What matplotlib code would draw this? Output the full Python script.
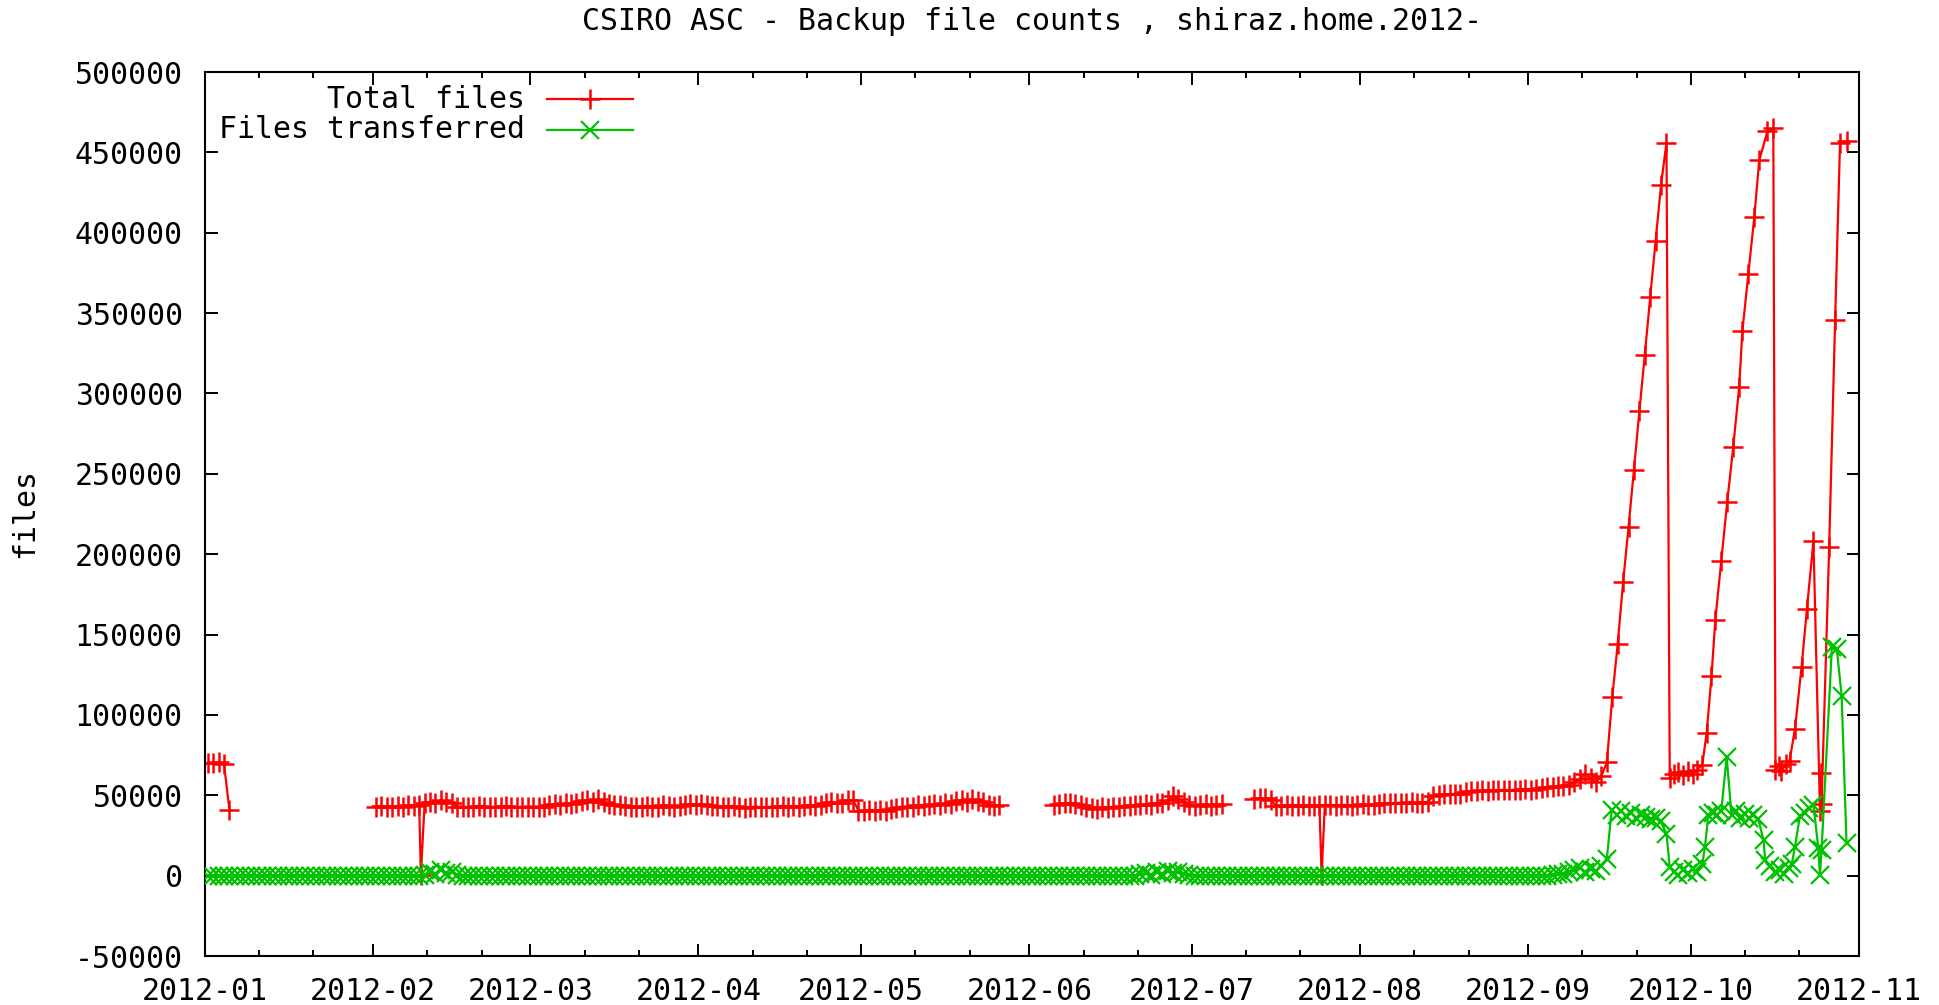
import numpy as np
import pandas as pd
import matplotlib
matplotlib.use("Agg")
import matplotlib.pyplot as plt
import matplotlib.dates as mdates
from matplotlib.lines import Line2D
from matplotlib.ticker import MultipleLocator, FuncFormatter

plt.rcParams.update({"font.family": "DejaVu Sans Mono", "font.size": 21.5,
                     "axes.unicode_minus": False})

RED = "#ff0000"
GREEN = "#00c000"
START = pd.Timestamp("2012-01-01")

TITLE = "CSIRO ASC - Backup file counts , shiraz.home.2012-"
LABELS = ["Total files", "Files transferred"]

# ---- Total files: one backup per day (noon); segments start on a day offset from 1 Jan ----
red_jan = [70000, 70000, 70500, 69500, 41000]                        # 1-5 Jan
red_feb_may = [43000, 43500, 43000, 42500, 43500, 43000, 44000, 43500, 44000,  # from 1 Feb
               45000, 46000, 45500, 47000, 46000, 45000,
               43000, 43000, 42500, 43000, 43500, 43000, 42500, 43000, 43000,
               43500, 43000, 42500, 43000, 43000, 43000, 43000, 43000,
               44000, 44500, 44000, 45000, 44500, 45500,
               46500, 47000, 46000, 47500, 46000,
               44500, 44000, 44000, 43500, 43000, 43000,
               43000, 43500, 43000, 43000, 44000, 43500, 43000, 43500, 44000,
               44500, 44000, 44500, 44000, 43500,
               43500, 43000, 43000, 43500, 42500, 42000, 42500, 43000, 42500, 42500,
               43000, 43000, 43500, 43000, 43500, 43000, 43500, 44000, 43500, 44000,
               45500, 46000, 45000, 45500, 47000, 47000,
               40500, 40000, 41000, 40500, 41000, 40500, 41500, 42000,
               43000, 43000, 43000,
               44000, 43500, 44000, 44500, 44000, 45000, 44500,
               46500, 47000, 46000, 47500, 46500, 46000,
               44000, 43500, 44000]
red_jun_jul = [44000, 44500, 45000, 45000, 44500, 44000, 43000,      # from 5 Jun
               42000, 41500, 42500, 42000, 43000, 42500,
               43500, 43500, 44000, 44000, 44500, 44000, 45000, 45500,
               47000, 49500, 47500, 46000,
               44000, 43500, 44000, 44500, 43500, 44000, 44500]
red_jul_sep = [47500, 48000, 48000, 47000,                           # from 12 Jul
               43500, 43500, 44000, 43500, 43500, 44000, 43500, 43500, 44000,
               44000, 44000, 43500, 44000, 44000, 43500, 44000, 44500, 44000,
               44000, 44500, 45000, 45000,
               45000, 45500, 45000, 46000, 45000, 45500, 46000,
               49500, 50000, 50500, 50500, 51000, 51000,
               52000, 52500, 52500, 53000, 52500, 53000, 53000, 53500, 53000,
               53500, 53500, 54000, 53500, 54000,
               54500, 55000, 55000, 55500, 56000, 56500,
               58000, 60000, 63500, 60500, 58000, 62000]
red_seg_start = [0, 31, 156, 193]
red_dip_days = [39.8, 205.9]
red_dip_vals = [500, 500]
red_tail_days = [258.5, 259.5, 260.5, 261.5, 262.5, 263.5, 264.5, 265.5, 266.5, 267.5, 268.5, 269.5,
                 270.1, 270.9, 271.7, 272.5, 273.4, 274.3, 275.2, 276.1,
                 276.9, 277.8, 278.5, 279.6, 280.7, 281.8, 282.9, 283.5, 284.6, 285.7, 286.6,
                 288.1, 289.2,
                 289.6, 290.2, 290.7, 291.5, 292.2, 293.2, 294.4, 295.4, 296.6,
                 297.8, 298.0, 298.1, 299.5, 300.6, 301.5, 302.8]
red_tail_vals = [70500, 111000, 144000, 182500, 217000, 252500, 289000, 324000, 360000, 395000,
                 430000, 456000,
                 61000, 63500, 64500, 62500, 65000, 63000, 66000, 69000,
                 88500, 124000, 159000, 196000, 232500, 266500, 304000, 339000, 374500, 410000,
                 445000, 463000, 465000,
                 66000, 68000, 65000, 69500, 71500, 91500, 129500, 166000, 208500,
                 40500, 64000, 44800, 204500, 346000, 456000, 457000]

# ---- Files transferred: daily from 1 Jan to 14 Sep, then the busy tail ----
green_daily = [0, 0, 0, 0, 0, 0, 0, 0, 0, 0, 0, 0, 0, 0, 0, 0, 0, 0, 0, 0,
               0, 0, 0, 0, 0, 0, 0, 0, 0, 0, 0, 0, 0, 0, 0, 0, 0, 0, 0, 0,
               500, 2500, 1000, 3500, 1500, 2000, 500, 0, 0, 0, 0, 0, 0, 0, 0, 0, 0, 0, 0, 0,
               0, 0, 0, 0, 0, 0, 0, 0, 0, 0, 0, 0, 0, 0, 0, 0, 0, 0, 0, 0,
               0, 0, 0, 0, 0, 0, 0, 0, 0, 0, 0, 0, 0, 0, 0, 0, 0, 0, 0, 0,
               0, 0, 0, 0, 0, 0, 0, 0, 0, 0, 0, 0, 0, 0, 0, 0, 0, 0, 0, 0,
               0, 0, 0, 0, 0, 0, 0, 0, 0, 0, 0, 0, 0, 0, 0, 0, 0, 0, 0, 0,
               0, 0, 0, 0, 0, 0, 0, 0, 0, 0, 0, 0, 0, 0, 0, 0, 0, 0, 0, 0,
               0, 0, 0, 0, 0, 0, 0, 0, 0, 0, 0, 0, 1000, 1500, 500, 2000, 1000, 3000, 1500, 2500,
               1000, 500, 0, 0, 0, 0, 0, 0, 0, 0, 0, 0, 0, 0, 0, 0, 0, 0, 0, 0,
               0, 0, 0, 0, 0, 0, 0, 0, 0, 0, 0, 0, 0, 0, 0, 0, 0, 0, 0, 0,
               0, 0, 0, 0, 0, 0, 0, 0, 0, 0, 0, 0, 0, 0, 0, 0, 0, 0, 0, 0,
               0, 0, 0, 0, 0, 0, 0, 0, 500, 1000, 1000, 2000, 3500, 5000, 2500, 4000, 3000, 6000]
green_tail_days = [258.5, 259.4, 260.3, 261.2, 262.1, 263.0, 263.9, 264.8, 265.7, 266.6,
                   267.5, 268.4, 269.5, 270.1, 270.9, 271.7, 272.5, 273.4, 274.3, 275.2,
                   276.1, 276.6, 277.2, 278.0, 278.8, 279.6, 280.6, 281.5, 282.3, 283.1,
                   283.9, 284.7, 285.5, 286.4, 287.4, 287.7, 288.6, 289.5, 290.4, 291.2,
                   292.0, 292.6, 293.2, 294.1, 295.0, 295.8, 296.6, 297.5, 297.8, 298.1,
                   300.0, 300.9, 301.8, 302.7]
green_tail_vals = [10500, 41000, 38000, 40000, 37000, 39000, 36000, 38000, 36500, 35500,
                   36000, 34000, 26000, 5500, 2000, 500, 3500, 1500, 4000, 2500,
                   7000, 18000, 37500, 39000, 38000, 40000, 74000, 37500, 40000, 36000,
                   38500, 36000, 37500, 35500, 22000, 9500, 5800, 2000, 3700, 1000,
                   4800, 7000, 18000, 37000, 39000, 42000, 44000, 17000, 600, 16000,
                   142000, 141000, 112000, 20000]

# assemble red: daily segments at noon, a NaN after each segment breaks the line
r_days, r_vals = [], []
for s, seg in zip(red_seg_start, [red_jan, red_feb_may, red_jun_jul, red_jul_sep]):
    r_days += [s + i + 0.5 for i in range(len(seg))] + [s + len(seg) + 0.2]
    r_vals += list(seg) + [np.nan]
r_vals[-1] = red_tail_vals[0]  # last segment joins the tail
r_days[-1] = red_tail_days[0]
r_days += red_dip_days + red_tail_days[1:]
r_vals += red_dip_vals + red_tail_vals[1:]
order = np.argsort(r_days)
r_days = np.array(r_days)[order]
r_vals = np.array(r_vals, float)[order]

g_days = np.concatenate([np.arange(len(green_daily)) + 0.5, green_tail_days])
g_vals = np.concatenate([green_daily, green_tail_vals]).astype(float)

to_time = lambda d: START + pd.to_timedelta(d, unit="D")

fig = plt.figure(figsize=(19.39, 10.05), dpi=100)
ax = fig.add_axes([205 / 1939, 1 - 956 / 1005, 1654 / 1939, 884 / 1005])

RED_MK = dict(marker="+", ms=14.5, mew=1.8)
GREEN_MK = dict(marker="x", ms=13.5, mew=1.6)
ax.plot(to_time(r_days), r_vals, color=RED, lw=1.6, zorder=2, **RED_MK)
ax.plot(to_time(g_days), g_vals, color=GREEN, lw=1.6, zorder=3, **GREEN_MK)

ax.set_xlim(START, pd.Timestamp("2012-11-01"))
ax.set_ylim(-50000, 500000)
ax.xaxis.set_major_locator(mdates.MonthLocator())
ax.xaxis.set_minor_locator(mdates.DayLocator(bymonthday=[11, 21]))
ax.xaxis.set_major_formatter(mdates.DateFormatter("%Y-%m"))
ax.yaxis.set_major_locator(MultipleLocator(50000))
ax.yaxis.set_major_formatter(FuncFormatter(lambda v, p: f"{int(v)}"))
ax.tick_params(which="both", direction="in", top=True, right=True, width=1.4, colors="black")
ax.tick_params(which="major", length=9)
ax.tick_params(which="minor", length=4.5)
ax.tick_params(axis="y", pad=16)
ax.tick_params(axis="x", pad=15)
for s in ax.spines.values():
    s.set_linewidth(1.5)

ax.text(0.5, 1.0566, TITLE, transform=ax.transAxes, ha="center", va="center")
fig.text(25 / 1939, 1 - 513 / 1005, "files", rotation=90, ha="center", va="center")

# key, gnuplot style: right-justified text followed by the sample
for lab, col, mk, ypx in [(LABELS[0], RED, RED_MK, 99),
                          (LABELS[1], GREEN, GREEN_MK, 130)]:
    y = 1 - ypx / 1005
    fig.text(525 / 1939, y, lab, ha="right", va="center")
    fig.add_artist(Line2D([547 / 1939, 633 / 1939], [y, y], transform=fig.transFigure,
                          color=col, lw=1.6))
    fig.add_artist(Line2D([590 / 1939], [y], transform=fig.transFigure, color=col,
                          lw=0, **mk))

fig.savefig("out.png", dpi=100, facecolor="white")
